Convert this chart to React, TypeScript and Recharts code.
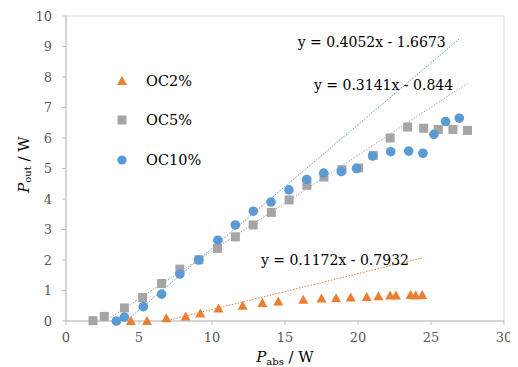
import React from 'react';
import { ScatterChart, Scatter, XAxis, YAxis, ReferenceLine, ReferenceArea, ReferenceDot } from 'recharts';

const FONT = '"DejaVu Serif", serif';

// OC2% series
const oc2X = [4.45, 5.55, 6.87, 8.2, 9.2, 10.45, 12.1, 13.45, 14.54, 16.25, 17.5, 18.5, 19.5, 20.6, 21.4, 22.2, 22.6, 23.6, 23.95, 24.4];
const oc2Y = [0.0, 0.0, 0.09, 0.15, 0.25, 0.41, 0.5, 0.59, 0.64, 0.7, 0.74, 0.75, 0.77, 0.79, 0.81, 0.84, 0.84, 0.85, 0.84, 0.85];
// OC5% series
const oc5X = [1.85, 2.62, 4.0, 5.25, 6.55, 7.8, 9.1, 10.38, 11.6, 12.82, 14.06, 15.28, 16.5, 17.67, 18.9, 20.05, 21.05, 22.2, 23.4, 24.5, 25.5, 26.5, 27.5];
const oc5Y = [0.01, 0.15, 0.43, 0.77, 1.23, 1.7, 2.01, 2.38, 2.76, 3.15, 3.56, 3.97, 4.45, 4.72, 4.96, 5.02, 5.43, 6.0, 6.36, 6.32, 6.28, 6.28, 6.25];
// OC10% series
const oc10X = [3.45, 4.0, 5.3, 6.55, 7.8, 9.1, 10.4, 11.6, 12.83, 14.04, 15.27, 16.49, 17.65, 18.85, 19.9, 21.0, 22.24, 23.47, 24.45, 25.2, 26.0, 26.94];
const oc10Y = [0.0, 0.13, 0.47, 0.88, 1.54, 2.0, 2.65, 3.15, 3.6, 3.9, 4.3, 4.64, 4.85, 4.9, 5.0, 5.41, 5.55, 5.57, 5.5, 6.12, 6.54, 6.65];

const seriesNames = ['OC2%', 'OC5%', 'OC10%'];
const seriesColors = ['#ED7D31', '#A5A5A5', '#5B9BD5'];
const slopes = [0.1172, 0.3141, 0.4052];
const intercepts = [-0.7932, -0.844, -1.6673];
const equations = ['y = 0.1172x - 0.7932', 'y = 0.3141x - 0.844', 'y = 0.4052x - 1.6673'];
const eqPosX = [18.42, 21.75, 20.94];
const eqPosY = [1.99, 7.74, 9.16];

const xTicks = [0, 5, 10, 15, 20, 25, 30];
const yTicks = [0, 1, 2, 3, 4, 5, 6, 7, 8, 9, 10];

const zip = (xs: number[], ys: number[]) => xs.map((x, i) => ({ x, y: ys[i] }));
const allX = [oc2X, oc5X, oc10X];
const allY = [oc2Y, oc5Y, oc10Y];
const seriesData = allX.map((xs, i) => zip(xs, allY[i]));

const Triangle = (p: any) => {
  const { cx, cy, fill } = p;
  if (cx == null || cy == null) return null;
  return <polygon points={`${cx},${cy - 5} ${cx + 5},${cy + 4} ${cx - 5},${cy + 4}`} fill={fill} />;
};
const Square = (p: any) => {
  const { cx, cy, fill } = p;
  if (cx == null || cy == null) return null;
  return <rect x={cx - 4.5} y={cy - 4.5} width={9} height={9} fill={fill} />;
};
const Circle = (p: any) => {
  const { cx, cy, fill } = p;
  if (cx == null || cy == null) return null;
  return <circle cx={cx} cy={cy} r={4.8} fill={fill} />;
};
const shapes = [Triangle, Square, Circle];

const trendSegment = (i: number) => {
  const xs = allX[i];
  const m = slopes[i];
  const b = intercepts[i];
  const x0 = Math.max(Math.min(...xs), -b / m);
  const x1 = Math.max(...xs);
  return [
    { x: x0, y: m * x0 + b },
    { x: x1, y: m * x1 + b },
  ];
};

const XLabel = (props: any) => {
  const vb = props.viewBox;
  return (
    <text x={vb.x + vb.width / 2} y={vb.y + 41} textAnchor="middle" fontFamily={FONT} fontSize={15} fill="#000">
      <tspan fontStyle="italic">P</tspan>
      <tspan fontSize={10} dy={3}>abs</tspan>
      <tspan dy={-3}> / W</tspan>
    </text>
  );
};

const YLabel = (props: any) => {
  const vb = props.viewBox;
  const cx = 16;
  const cy = vb.y + vb.height / 2 - 4;
  return (
    <text x={cx} y={cy} transform={`rotate(-90 ${cx} ${cy})`} textAnchor="middle" dominantBaseline="central" fontFamily={FONT} fontSize={15} fill="#000">
      <tspan fontStyle="italic">P</tspan>
      <tspan fontSize={10} dy={3}>out</tspan>
      <tspan dy={-3}> / W</tspan>
    </text>
  );
};

const LegendBox = () => (
  <div style={{ position: 'absolute', left: 106, top: 53, width: 120, fontFamily: FONT, fontSize: 14.5, color: '#000' }}>
    {seriesNames.map((n, i) => (
      <div key={n} style={{ display: 'flex', alignItems: 'center', height: 39.5 }}>
        <svg width={16} height={16} style={{ marginRight: 16 }}>
          {i === 0 && <polygon points="8,3 13,12 3,12" fill={seriesColors[i]} />}
          {i === 1 && <rect x={3.5} y={3.5} width={9} height={9} fill={seriesColors[i]} />}
          {i === 2 && <circle cx={8} cy={8} r={4.6} fill={seriesColors[i]} />}
        </svg>
        <span>{n}</span>
      </div>
    ))}
  </div>
);

const EqText = (text: string) => (p: any) => (
  <text x={p.cx} y={p.cy} textAnchor="middle" dominantBaseline="central" fontFamily={FONT} fontSize={14} fill="#000">
    {text}
  </text>
);

const tickStyle = { fontFamily: FONT, fontSize: 13, fill: '#595959' };

export default function App() {
  return (
    <div style={{ position: 'relative', width: 510, height: 359 }}>
      <ScatterChart width={510} height={359} margin={{ top: 8, right: 14, bottom: 16, left: 18 }} style={{ fontFamily: FONT }}>
        <ReferenceArea x1={0} x2={30} y1={0} y2={10} fill="none" stroke="#D9D9D9" strokeWidth={1} />
        <XAxis
          type="number"
          dataKey="x"
          domain={[0, 30]}
          ticks={xTicks}
          interval={0}
          height={30}
          axisLine={{ stroke: '#BFBFBF' }}
          tickLine={{ stroke: '#BFBFBF' }}
          tickSize={4}
          tickMargin={8}
          tick={tickStyle}
          label={<XLabel />}
        />
        <YAxis
          type="number"
          dataKey="y"
          domain={[0, 10]}
          ticks={yTicks}
          interval={0}
          width={40}
          axisLine={{ stroke: '#BFBFBF' }}
          tickLine={{ stroke: '#BFBFBF' }}
          tickSize={4}
          tickMargin={10}
          tick={tickStyle}
          label={<YLabel />}
        />
        {[0, 1, 2].map((i) => (
          <ReferenceLine
            key={'t' + i}
            segment={trendSegment(i)}
            stroke={seriesColors[i]}
            strokeWidth={1}
            strokeDasharray="1.5 1.5"
          />
        ))}
        {[0, 1, 2].map((i) => (
          <Scatter
            key={seriesNames[i]}
            name={seriesNames[i]}
            data={seriesData[i]}
            fill={seriesColors[i]}
            shape={shapes[i]}
            isAnimationActive={false}
          />
        ))}
        {[0, 1, 2].map((i) => (
          <ReferenceDot key={'e' + i} x={eqPosX[i]} y={eqPosY[i]} r={0} shape={EqText(equations[i])} />
        ))}
      </ScatterChart>
      <LegendBox />
    </div>
  );
}
